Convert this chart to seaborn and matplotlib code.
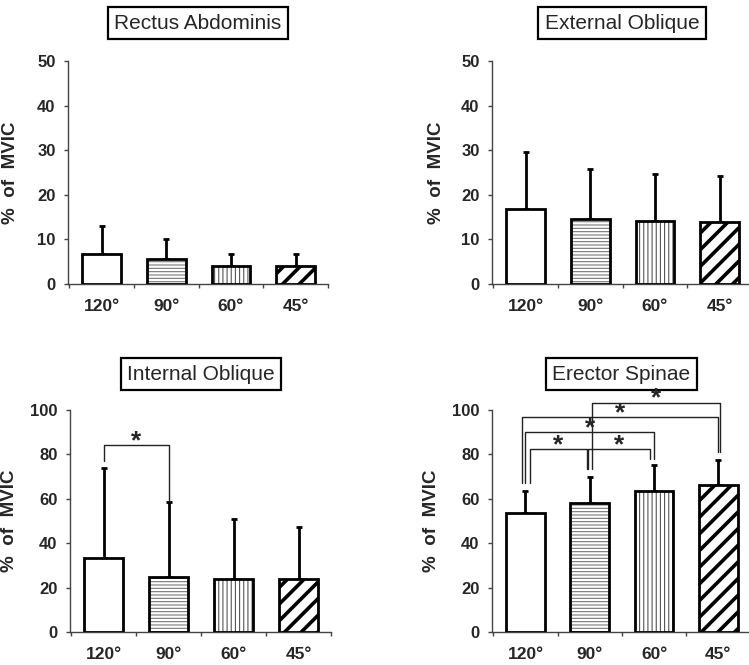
import matplotlib
matplotlib.use("Agg")
import matplotlib.pyplot as plt
import seaborn as sns
import pandas as pd
import numpy as np

# ---------------- data ----------------
angles = ["120°", "90°", "60°", "45°"]

ra_mean = [6.7, 5.6, 4.1, 4.0]
ra_sd = [6.2, 4.6, 2.6, 2.7]

eo_mean = [16.9, 14.6, 14.2, 14.0]
eo_sd = [12.8, 11.3, 10.4, 10.3]

io_mean = [33.3, 25.0, 24.0, 23.8]
io_sd = [40.5, 33.5, 27.1, 23.3]

es_mean = [53.7, 58.2, 63.4, 66.3]
es_sd = [9.9, 11.7, 11.9, 11.2]

titles = ["Rectus Abdominis", "External Oblique", "Internal Oblique", "Erector Spinae"]
y_label = "%  of  MVIC"

# significance comparisons: (group a, group b, bracket height)
io_sig = [(0, 1, 84.2)]
es_sig = [(0, 1, 82.4), (1, 2, 82.4), (0, 2, 90.1), (0, 3, 96.8), (1, 3, 103.2)]

# style: small horizontal leg offsets and gaps above error bars for the brackets
io_leg_style = [(0.0, 0.0, 3.3, 0.4)]
es_leg_style = [(0.07, -0.05, 3.6, 3.5), (-0.02, -0.06, 3.5, 2.7),
                (0.0, 0.0, 3.6, 2.7), (-0.06, 0.0, 3.6, 3.6), (0.04, 0.03, 3.5, 3.6)]

# ---------------- style ----------------
sns.set_theme(style="ticks")
plt.rcParams["font.family"] = ["Liberation Sans", "DejaVu Sans"]

fig = plt.figure(figsize=(7.49, 6.65), dpi=100)

positions = [
    [0.0908, 0.5729, 0.3471, 0.3353],
    [0.6569, 0.5729, 0.3471, 0.3353],
    [0.0935, 0.0496, 0.3490, 0.3338],
    [0.6569, 0.0496, 0.3450, 0.3338],
]
means = [ra_mean, eo_mean, io_mean, es_mean]
sds = [ra_sd, eo_sd, io_sd, es_sd]
ylims = [50, 50, 100, 100]
ysteps = [10, 10, 20, 20]
ylabel_x = [-0.19, -0.18, -0.20, -0.20]
hatches = [None, "-----", "||||", "//"]
hatch_lw = [0, 0.8, 0.8, 2.6]
hatch_col = ["black", "#777777", "#555555", "black"]
sigs = [[], [], io_sig, es_sig]
leg_styles = [[], [], io_leg_style, es_leg_style]

for i in range(4):
    ax = fig.add_axes(positions[i])
    df = pd.DataFrame({"angle": angles, "value": means[i]})
    # fills with hatch patterns
    sns.barplot(data=df, x="angle", y="value", ax=ax, color="white",
                edgecolor="black", linewidth=0, width=0.6, errorbar=None,
                saturation=1)
    n_fill = len(ax.patches)
    for p, h, hl, hc in zip(ax.patches, hatches, hatch_lw, hatch_col):
        p.set_facecolor("white")
        p.set_edgecolor(hc)
        p.set_linewidth(0)
        if h:
            p.set_hatch(h)
            try:
                p.set_hatch_linewidth(hl)
            except AttributeError:
                pass
        p.set_zorder(3)
    # black outlines
    sns.barplot(data=df, x="angle", y="value", ax=ax, color="white",
                edgecolor="black", linewidth=2, width=0.6, errorbar=None,
                saturation=1)
    for p in ax.patches[n_fill:]:
        p.set_facecolor("none")
        p.set_edgecolor("black")
        p.set_linewidth(2)
        p.set_zorder(4)

    x = np.arange(len(angles))
    ax.errorbar(x, means[i], yerr=[np.zeros(len(angles)), sds[i]], fmt="none",
                ecolor="black", elinewidth=2, capsize=2.5, capthick=2, zorder=2)

    ax.set_xlim(-0.52, 3.5)
    ax.set_ylim(0, ylims[i])
    ax.set_yticks(np.arange(0, ylims[i] + 1, ysteps[i]))
    ax.set_xticks(x)
    ax.set_xticklabels(angles)
    ax.set_xticks([-0.5, 0.5, 1.5, 2.5, 3.5], minor=True)
    ax.tick_params(axis="x", which="major", length=0, pad=11, labelsize=12.5)
    ax.tick_params(axis="x", which="minor", length=3, width=1, direction="out", color="#444")
    ax.tick_params(axis="y", length=3, width=1, direction="out", color="#444",
                   pad=6, labelsize=12)
    for lab in ax.get_xticklabels() + ax.get_yticklabels():
        lab.set_fontweight("bold")
    ax.set_xlabel("")
    ax.set_ylabel(y_label, fontsize=13.5, fontweight="bold")
    ax.yaxis.set_label_coords(ylabel_x[i], 0.5)
    sns.despine(ax=ax)
    for s in ["left", "bottom"]:
        ax.spines[s].set_color("#444")
        ax.spines[s].set_linewidth(1)
    ax.set_facecolor("none")

    ax.text(0.5, 1.17 if i < 2 else 1.162, titles[i], transform=ax.transAxes,
            ha="center", va="center", fontsize=15,
            bbox=dict(boxstyle="square,pad=0.3", fc="white", ec="black", lw=1.6))

    # significance brackets
    for (a, b, h), (da, db, ga, gb) in zip(sigs[i], leg_styles[i]):
        ya = means[i][a] + sds[i][a] + ga
        yb = means[i][b] + sds[i][b] + gb
        xa, xb = a + da, b + db
        ax.plot([xa, xa, xb, xb], [ya, h, h, yb], color="#222", lw=1,
                clip_on=False, zorder=5)
        ax.annotate("*", xy=((xa + xb) / 2, h), xytext=(0, 3), textcoords="offset points",
                    ha="center", va="center", fontsize=19, fontweight="bold",
                    annotation_clip=False)

fig.savefig("out.png", dpi=100)
